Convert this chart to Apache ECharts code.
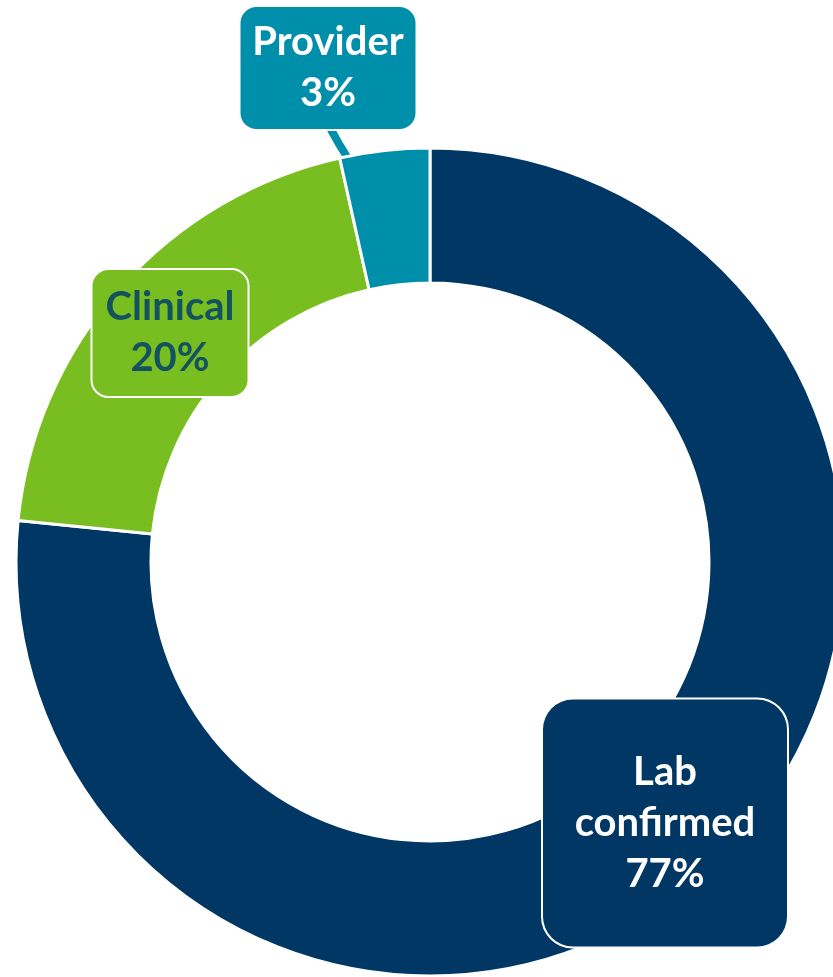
<!DOCTYPE html>
<html>
<head>
<meta charset="utf-8">
<script src="https://cdn.jsdelivr.net/npm/echarts@6/dist/echarts.min.js"></script>
<style>
  html, body { margin: 0; padding: 0; background: #ffffff; }
  #chart { width: 833px; height: 977px; }
</style>
</head>
<body>
<div id="chart"></div>
<script>
// Data
const categories = ["Lab\nconfirmed", "Clinical", "Provider"];
const values = [76.6, 19.9, 3.5];
const shareLabels = ["77%", "20%", "3%"];

// Styles
const colors = ["#003764", "#78BE20", "#008FAA"];
const textColors = ["#ffffff", "#145260", "#ffffff"];
const boxWidths = [244, 155, 175];
const boxPadding = [[47, 0], [12, 0], [10, 0]];
const boxRadius = [30, 16, 16];
const labelCenters = [[665, 823], [170, 333], [328, 68]];

const chart = echarts.init(document.getElementById('chart'), null, { renderer: 'canvas' });

const data = categories.map((name, i) => ({
  name: name,
  value: values[i],
  itemStyle: { color: colors[i] },
  label: {
    show: true,
    position: 'outside',
    formatter: name + '\n' + shareLabels[i],
    color: textColors[i],
    backgroundColor: colors[i],
    borderColor: '#ffffff',
    borderWidth: 2,
    borderRadius: boxRadius[i],
    width: boxWidths[i],
    padding: boxPadding[i],
    align: 'center'
  },
  labelLine: {
    show: i === 2,
    lineStyle: { color: colors[i], width: 8 }
  }
}));

chart.setOption({
  backgroundColor: '#ffffff',
  animation: false,
  series: [{
    type: 'pie',
    center: [430, 562],
    radius: [279, 414],
    startAngle: 90,
    clockwise: true,
    avoidLabelOverlap: false,
    itemStyle: { borderColor: '#ffffff', borderWidth: 3 },
    label: {
      fontFamily: 'Lato',
      fontWeight: 'bold',
      fontSize: 40,
      lineHeight: 51
    },
    emphasis: { disabled: true },
    labelLayout: function (params) {
      const i = params.dataIndex;
      const res = {
        x: labelCenters[i][0],
        y: labelCenters[i][1],
        align: 'center',
        verticalAlign: 'middle'
      };
      if (i === 2) {
        res.labelLinePoints = [[349, 160], [339, 144], [329, 126]];
      }
      return res;
    },
    data: data
  }]
});
</script>
</body>
</html>
